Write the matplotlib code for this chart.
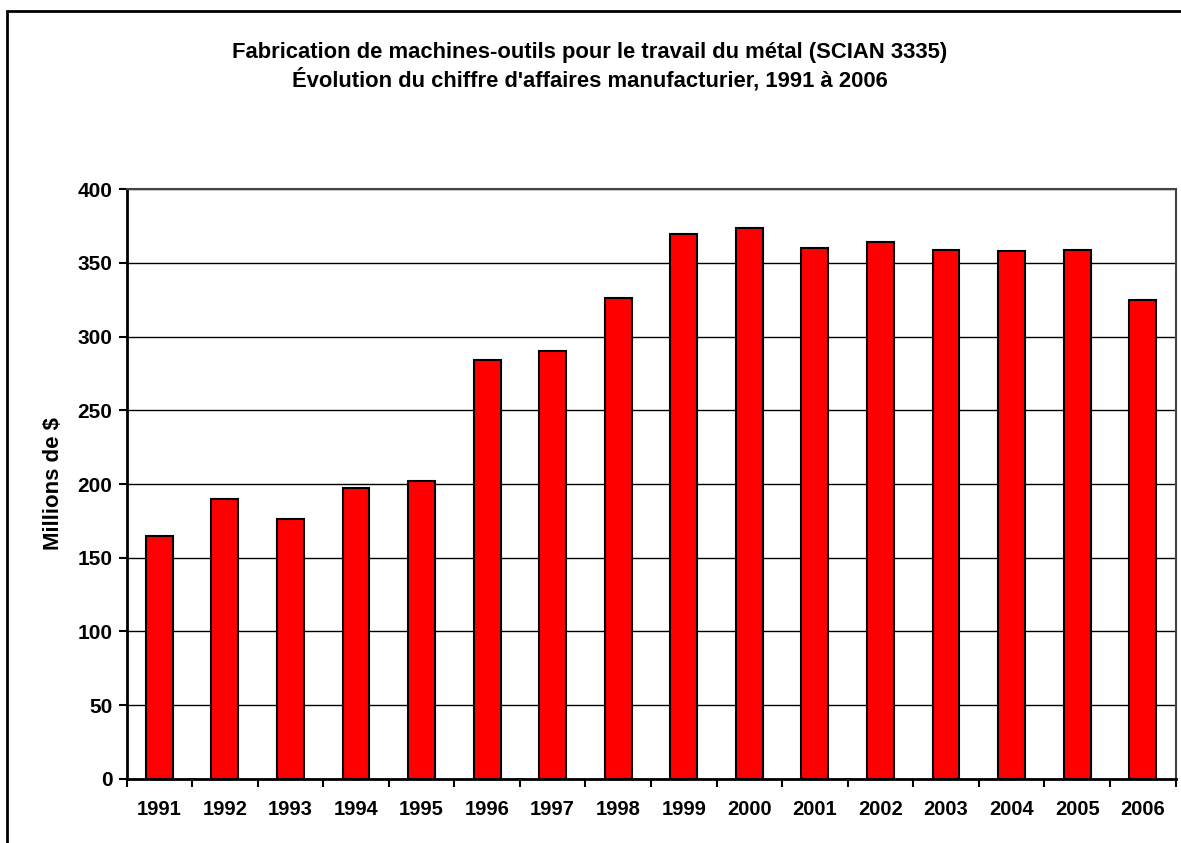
import matplotlib.pyplot as plt
import numpy as np
from matplotlib.patches import Rectangle

plt.rcParams['font.family'] = ['Liberation Sans', 'DejaVu Sans']

# Chiffre d'affaires manufacturier (millions de $)
years = ['1991', '1992', '1993', '1994', '1995', '1996', '1997', '1998',
         '1999', '2000', '2001', '2002', '2003', '2004', '2005', '2006']
sales = [165, 190, 176, 197, 202, 284, 290, 326,
         370, 374, 360, 364, 359, 358, 359, 325]
yticks = [0, 50, 100, 150, 200, 250, 300, 350, 400]

title = ("Fabrication de machines-outils pour le travail du métal (SCIAN 3335)\n"
         "Évolution du chiffre d'affaires manufacturier, 1991 à 2006")

fig = plt.figure(figsize=(11.81, 8.43), dpi=100)
ax = fig.add_axes([126.5 / 1181, 1 - 778.7 / 843, (1175.5 - 126.5) / 1181, (778.7 - 189.3) / 843])

x = np.arange(len(years))
ax.bar(x, sales, width=0.41, color='#ff0000', edgecolor='black', linewidth=1.5, zorder=3)

ax.set_xlim(-0.5, len(years) - 0.5)
ax.set_ylim(0, 400)
ax.set_yticks(yticks)
ax.set_yticklabels([str(v) for v in yticks], fontsize=15, fontweight='bold')
ax.yaxis.grid(True, color='black', linewidth=1)
ax.set_axisbelow(True)

# category labels centred, ticks between categories
ax.set_xticks(x)
ax.set_xticklabels(years, fontsize=14.5, fontweight='bold')
ax.tick_params(axis='x', length=0, pad=15)
ax.set_xticks(np.arange(-0.5, len(years)), minor=True)
ax.tick_params(axis='x', which='minor', length=6, width=1.5, direction='out')
ax.tick_params(axis='y', length=6, width=1.5, direction='out', pad=4)

for side in ['left', 'bottom']:
    ax.spines[side].set_linewidth(2)
for side in ['top', 'right']:
    ax.spines[side].set_linewidth(1.5)
    ax.spines[side].set_color('#444444')

ax.set_ylabel('Millions de $', fontsize=16, fontweight='bold', labelpad=10)

fig.text(590 / 1181, 1 - 66.5 / 843, title, ha='center', va='center',
         fontsize=15.8, fontweight='bold', linespacing=1.25)

# chart border (runs off the right and bottom edge)
fig.patches.append(Rectangle((7 / 1181, -0.1), 1.2, 1 - 11 / 843 + 0.1,
                             transform=fig.transFigure, fill=False,
                             edgecolor='black', linewidth=2))

fig.savefig('out.png', dpi=100)
